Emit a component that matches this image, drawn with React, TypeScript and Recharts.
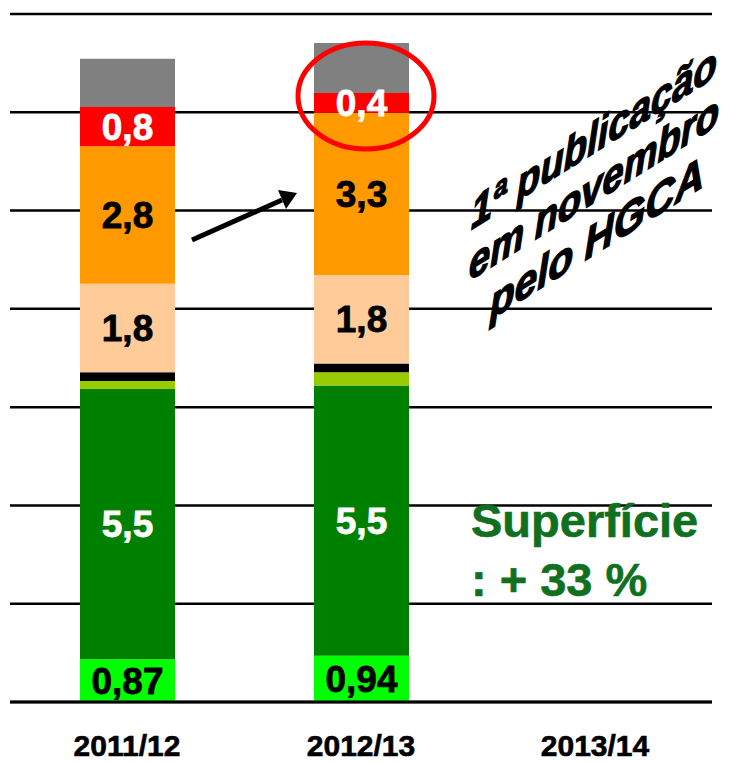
import { BarChart, Bar, XAxis, YAxis, CartesianGrid, LabelList } from 'recharts';

const seasons = ['2011/12', '2012/13', '2013/14'];
const brightGreen = [0.87, 0.94, null];
const green = [5.5, 5.5, null];
const lightGreen = [0.16, 0.27, null];
const blackBand = [0.18, 0.18, null];
const peach = [1.8, 1.8, null];
const orange = [2.8, 3.3, null];
const red = [0.8, 0.4, null];
const gray = [0.98, 1.02, null];
const yTicks = [0, 2, 4, 6, 8, 10, 12, 14];

const data = seasons.map((season, i) => ({
  season,
  brightGreen: brightGreen[i],
  green: green[i],
  lightGreen: lightGreen[i],
  blackBand: blackBand[i],
  peach: peach[i],
  orange: orange[i],
  red: red[i],
  gray: gray[i],
}));

const FONT = '"Liberation Sans", Arial, sans-serif';
const fmt = (v: any) => (v == null ? '' : String(v).replace('.', ','));

const labelStyle = (fill: string) => ({
  fill,
  stroke: fill,
  strokeWidth: 0.8,
  fontSize: 37,
  fontWeight: 700,
  fontFamily: FONT,
});

function SeasonTick({ x, y, payload }: any) {
  return (
    <text x={x} y={y} dy={46} textAnchor="middle" fontSize={30} fontWeight={700} fontFamily={FONT} fill="#000" stroke="#000" strokeWidth={0.6}>
      {payload.value}
    </text>
  );
}

function Notes() {
  const txt = {
    fontFamily: FONT,
    fontWeight: 700 as const,
    fontStyle: 'italic' as const,
    fontSize: 45,
    fill: '#000',
    stroke: '#000',
    strokeWidth: 1.4,
  };
  return (
    <svg width={736} height={763} style={{ position: 'absolute', left: 0, top: 0, pointerEvents: 'none' }}>
      <ellipse cx={366} cy={96} rx={68} ry={53} fill="none" stroke="#ff0000" strokeWidth={5} />
      <line x1={192} y1={240} x2={282} y2={200} stroke="#000" strokeWidth={5} />
      <polygon points="297,193 286,209 278,190" fill="#000" />
      <text x={471} y={537} fontFamily={FONT} fontWeight={700} fontSize={47} fill="#107020" stroke="#107020" strokeWidth={0.6}>Superfície</text>
      <text x={471} y={596} fontFamily={FONT} fontWeight={700} fontSize={47} fill="#107020" stroke="#107020" strokeWidth={0.6}>: + 33 %</text>
      <g transform="translate(471,230) skewY(-32)">
        <text x={0} y={0} {...txt} textLength={246} lengthAdjust="spacingAndGlyphs">1ª publicação</text>
      </g>
      <g transform="translate(469,281) skewY(-32)">
        <text x={0} y={0} {...txt} textLength={250} lengthAdjust="spacingAndGlyphs">em novembro</text>
      </g>
      <g transform="translate(490,320) skewY(-32)">
        <text x={0} y={0} {...txt} textLength={214} lengthAdjust="spacingAndGlyphs">pelo HGCA</text>
      </g>
    </svg>
  );
}

export default function App() {
  return (
    <div style={{ position: 'absolute', left: 0, top: 0, width: 736, height: 763, background: '#fff' }}>
      <BarChart
        width={736}
        height={763}
        data={data}
        margin={{ top: 14, right: 24, bottom: 0, left: 10 }}
        style={{ fontFamily: FONT }}
      >
        <CartesianGrid vertical={false} stroke="#000" strokeWidth={2.5} />
        <YAxis hide width={0} domain={[0, 14]} ticks={yTicks} />
        <XAxis
          dataKey="season"
          height={61}
          axisLine={{ stroke: '#000', strokeWidth: 3 }}
          tickLine={false}
          tick={<SeasonTick />}
          interval={0}
        />
        <Bar dataKey="brightGreen" stackId="a" fill="#00ff00" barSize={95} isAnimationActive={false}>
          <LabelList dataKey="brightGreen" position="center" formatter={fmt} style={labelStyle('#000')} />
        </Bar>
        <Bar dataKey="green" stackId="a" fill="#008000" barSize={95} isAnimationActive={false}>
          <LabelList dataKey="green" position="center" formatter={fmt} style={labelStyle('#fff')} />
        </Bar>
        <Bar dataKey="lightGreen" stackId="a" fill="#99cc00" barSize={95} isAnimationActive={false} />
        <Bar dataKey="blackBand" stackId="a" fill="#000000" barSize={95} isAnimationActive={false} />
        <Bar dataKey="peach" stackId="a" fill="#ffcc99" barSize={95} isAnimationActive={false}>
          <LabelList dataKey="peach" position="center" formatter={fmt} style={labelStyle('#000')} />
        </Bar>
        <Bar dataKey="orange" stackId="a" fill="#ff9900" barSize={95} isAnimationActive={false}>
          <LabelList dataKey="orange" position="center" formatter={fmt} style={labelStyle('#000')} />
        </Bar>
        <Bar dataKey="red" stackId="a" fill="#ff0000" barSize={95} isAnimationActive={false}>
          <LabelList dataKey="red" position="center" formatter={fmt} style={labelStyle('#fff')} />
        </Bar>
        <Bar dataKey="gray" stackId="a" fill="#808080" barSize={95} isAnimationActive={false} />
      </BarChart>
      <Notes />
    </div>
  );
}
